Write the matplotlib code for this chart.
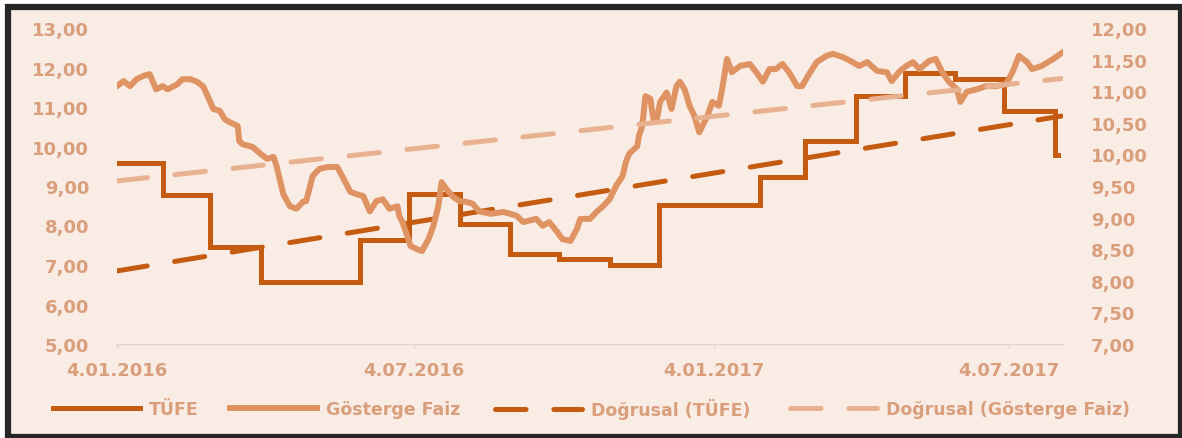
import matplotlib
matplotlib.use("Agg")
import matplotlib.pyplot as plt
from matplotlib.patches import Rectangle
from matplotlib.lines import Line2D
import pandas as pd

# ---------------- data ----------------
start_date = "2016-01-04"

tufe_dates = ["2016-01-04", "2016-02-01", "2016-03-01", "2016-04-01", "2016-05-01",
              "2016-06-01", "2016-07-01", "2016-08-01", "2016-09-01", "2016-10-01",
              "2016-11-01", "2016-12-01", "2017-01-01", "2017-02-01", "2017-03-01",
              "2017-04-01", "2017-05-01", "2017-06-01", "2017-07-01", "2017-08-01",
              "2017-08-03"]
tufe_values = [9.58, 8.78, 7.46, 6.57, 6.58, 7.64, 8.79, 8.05, 7.28, 7.16,
               7.00, 8.53, 8.53, 9.22, 10.13, 11.29, 11.87, 11.72, 10.90, 9.79,
               9.79]

faiz_days = [0, 4, 8, 12, 16, 20, 24, 28, 31, 37,
             40, 45, 49, 53, 57, 59, 63, 66, 69, 74,
             75, 77, 83, 88, 92, 96, 98, 100, 102, 106,
             110, 114, 116, 120, 124, 129, 135, 138, 143, 147,
             151, 155, 159, 163, 167, 172, 173, 175, 178, 180,
             184, 187, 191, 194, 197, 199, 202, 206, 210, 214,
             218, 222, 229, 237, 245, 249, 257, 261, 265, 270,
             273, 278, 282, 284, 290, 294, 298, 302, 306, 310,
             312, 314, 319, 320, 322, 324, 327, 329, 331, 333,
             337, 340, 343, 345, 348, 351, 354, 357, 362, 365,
             369, 371, 374, 377, 382, 388, 392, 396, 400, 404,
             408, 412, 417, 420, 425, 429, 435, 439, 445, 451,
             455, 460, 466, 472, 475, 480, 484, 488, 492, 498,
             502, 506, 510, 515, 517, 521, 527, 533, 539, 545,
             549, 553, 558, 561, 567, 574, 580]
faiz_values = [11.08, 11.16, 11.08, 11.19, 11.24, 11.27, 11.03, 11.08, 11.03, 11.11,
               11.19, 11.19, 11.15, 11.07, 10.84, 10.72, 10.69, 10.56, 10.51, 10.45,
               10.21, 10.16, 10.12, 10.01, 9.93, 9.96, 9.80, 9.58, 9.37, 9.18,
               9.14, 9.25, 9.26, 9.66, 9.77, 9.80, 9.80, 9.66, 9.41, 9.37,
               9.34, 9.10, 9.26, 9.29, 9.14, 9.18, 9.03, 8.93, 8.71, 8.55,
               8.50, 8.47, 8.66, 8.87, 9.18, 9.56, 9.45, 9.33, 9.26, 9.25,
               9.22, 9.10, 9.06, 9.09, 9.03, 8.93, 8.98, 8.87, 8.93, 8.77,
               8.66, 8.63, 8.82, 8.98, 8.98, 9.09, 9.18, 9.29, 9.50, 9.66,
               9.88, 10.01, 10.13, 10.29, 10.45, 10.92, 10.88, 10.53, 10.56, 10.83,
               10.98, 10.72, 11.08, 11.15, 11.03, 10.77, 10.61, 10.35, 10.61, 10.83,
               10.77, 11.03, 11.51, 11.30, 11.40, 11.43, 11.30, 11.15, 11.35, 11.35,
               11.43, 11.30, 11.08, 11.08, 11.30, 11.46, 11.56, 11.59, 11.54, 11.46,
               11.40, 11.46, 11.32, 11.30, 11.16, 11.32, 11.40, 11.46, 11.35, 11.48,
               11.51, 11.30, 11.15, 11.03, 10.83, 10.99, 11.03, 11.08, 11.08, 11.11,
               11.30, 11.56, 11.46, 11.35, 11.40, 11.51, 11.62]

trend_dates = ["2016-01-04", "2017-08-05"]
trend_tufe = [6.85, 10.77]
trend_faiz = [9.58, 11.20]

xtick_dates = ["2016-01-04", "2016-07-04", "2017-01-04", "2017-07-04"]
xtick_labels = ["4.01.2016", "4.07.2016", "4.01.2017", "4.07.2017"]
left_ticks = [5, 6, 7, 8, 9, 10, 11, 12, 13]
right_ticks = [7.0, 7.5, 8.0, 8.5, 9.0, 9.5, 10.0, 10.5, 11.0, 11.5, 12.0]

legend_labels = ["TÜFE", "Gösterge Faiz", "Doğrusal (TÜFE)", "Doğrusal (Gösterge Faiz)"]

# ---------------- style ----------------
BG = "#f9ece4"
C_TUFE = "#c55a11"
C_FAIZ = "#df9262"
C_FAIZ_TR = "#e8b291"
C_TXT = "#d99e7c"
FONT = "DejaVu Sans"

W, H = 1182, 439
fig = plt.figure(figsize=(W / 100, H / 100), dpi=100)
fig.patch.set_facecolor("white")
fig.patches.append(Rectangle((8 / W, 1 / H), (1181 - 8) / W, (438 - 8) / H,
                             transform=fig.transFigure, facecolor=BG,
                             edgecolor="#262626", linewidth=4.5, zorder=-5))

ax = fig.add_axes([117 / W, (H - 345) / H, 946 / W, 316 / H])
ax.set_facecolor("none")
ax2 = ax.twinx()
ax2.set_facecolor("none")

t0 = pd.Timestamp(start_date)
tufe_x = pd.to_datetime(tufe_dates)
faiz_x = t0 + pd.to_timedelta(faiz_days, unit="D")
trend_x = pd.to_datetime(trend_dates)

dash = (0, (22 / 3.6, 20 / 3.6))

ax.plot(tufe_x, tufe_values, drawstyle="steps-post", color=C_TUFE, lw=3.6,
        solid_joinstyle="miter", zorder=3)
ax.plot(trend_x, trend_tufe, color=C_TUFE, lw=3.6, linestyle=dash,
        dash_capstyle="round", zorder=3)
ax2.plot(faiz_x, faiz_values, color=C_FAIZ, lw=4.3, solid_joinstyle="round",
         solid_capstyle="round", zorder=3)
ax2.plot(trend_x, trend_faiz, color=C_FAIZ_TR, lw=3.6, linestyle=dash,
         dash_capstyle="round", zorder=3)

ax.set_xlim(t0, t0 + pd.Timedelta(days=580))
ax.set_ylim(5, 13)
ax2.set_ylim(7, 12)

ax.set_xticks(pd.to_datetime(xtick_dates))
ax.set_xticklabels(xtick_labels)
ax.set_yticks(left_ticks)
ax.set_yticklabels([f"{v:.2f}".replace(".", ",") for v in left_ticks])
ax2.set_yticks(right_ticks)
ax2.set_yticklabels([f"{v:.2f}".replace(".", ",") for v in right_ticks])

for a in (ax, ax2):
    for s in a.spines.values():
        s.set_visible(False)
ax.spines["bottom"].set_visible(True)
ax.spines["bottom"].set_color("#e3d4ca")
ax.spines["bottom"].set_linewidth(1.0)

ax.tick_params(axis="y", length=0, pad=20, colors=C_TXT)
ax2.tick_params(axis="y", length=0, pad=20, colors=C_TXT)
ax.tick_params(axis="x", length=3, width=1, color="#e3d4ca", pad=9, labelcolor=C_TXT)
for lab in ax.get_xticklabels() + ax.get_yticklabels() + ax2.get_yticklabels():
    lab.set_fontfamily(FONT)
    lab.set_fontweight("bold")
    lab.set_fontsize(13)
    lab.set_color(C_TXT)

# ---------------- legend ----------------
handles = [
    Line2D([], [], color=C_TUFE, lw=3.6),
    Line2D([], [], color=C_FAIZ, lw=4.3),
    Line2D([], [], color=C_TUFE, lw=3.6, linestyle=dash, dash_capstyle="round"),
    Line2D([], [], color=C_FAIZ_TR, lw=3.6, linestyle=dash, dash_capstyle="round"),
]
leg_x = [53, 230, 495, 790]
leg_y = (H - 410) / H
for h, lab, x in zip(handles, legend_labels, leg_x):
    lg = fig.legend([h], [lab], loc="center left", bbox_to_anchor=(x / W, leg_y),
                    frameon=False, handlelength=5.0, handletextpad=0.55,
                    borderpad=0, borderaxespad=0,
                    prop=dict(family=FONT, weight="bold", size=12.5))
    for t in lg.get_texts():
        t.set_color(C_TXT)

fig.savefig("out.png", dpi=100, facecolor=fig.get_facecolor())
